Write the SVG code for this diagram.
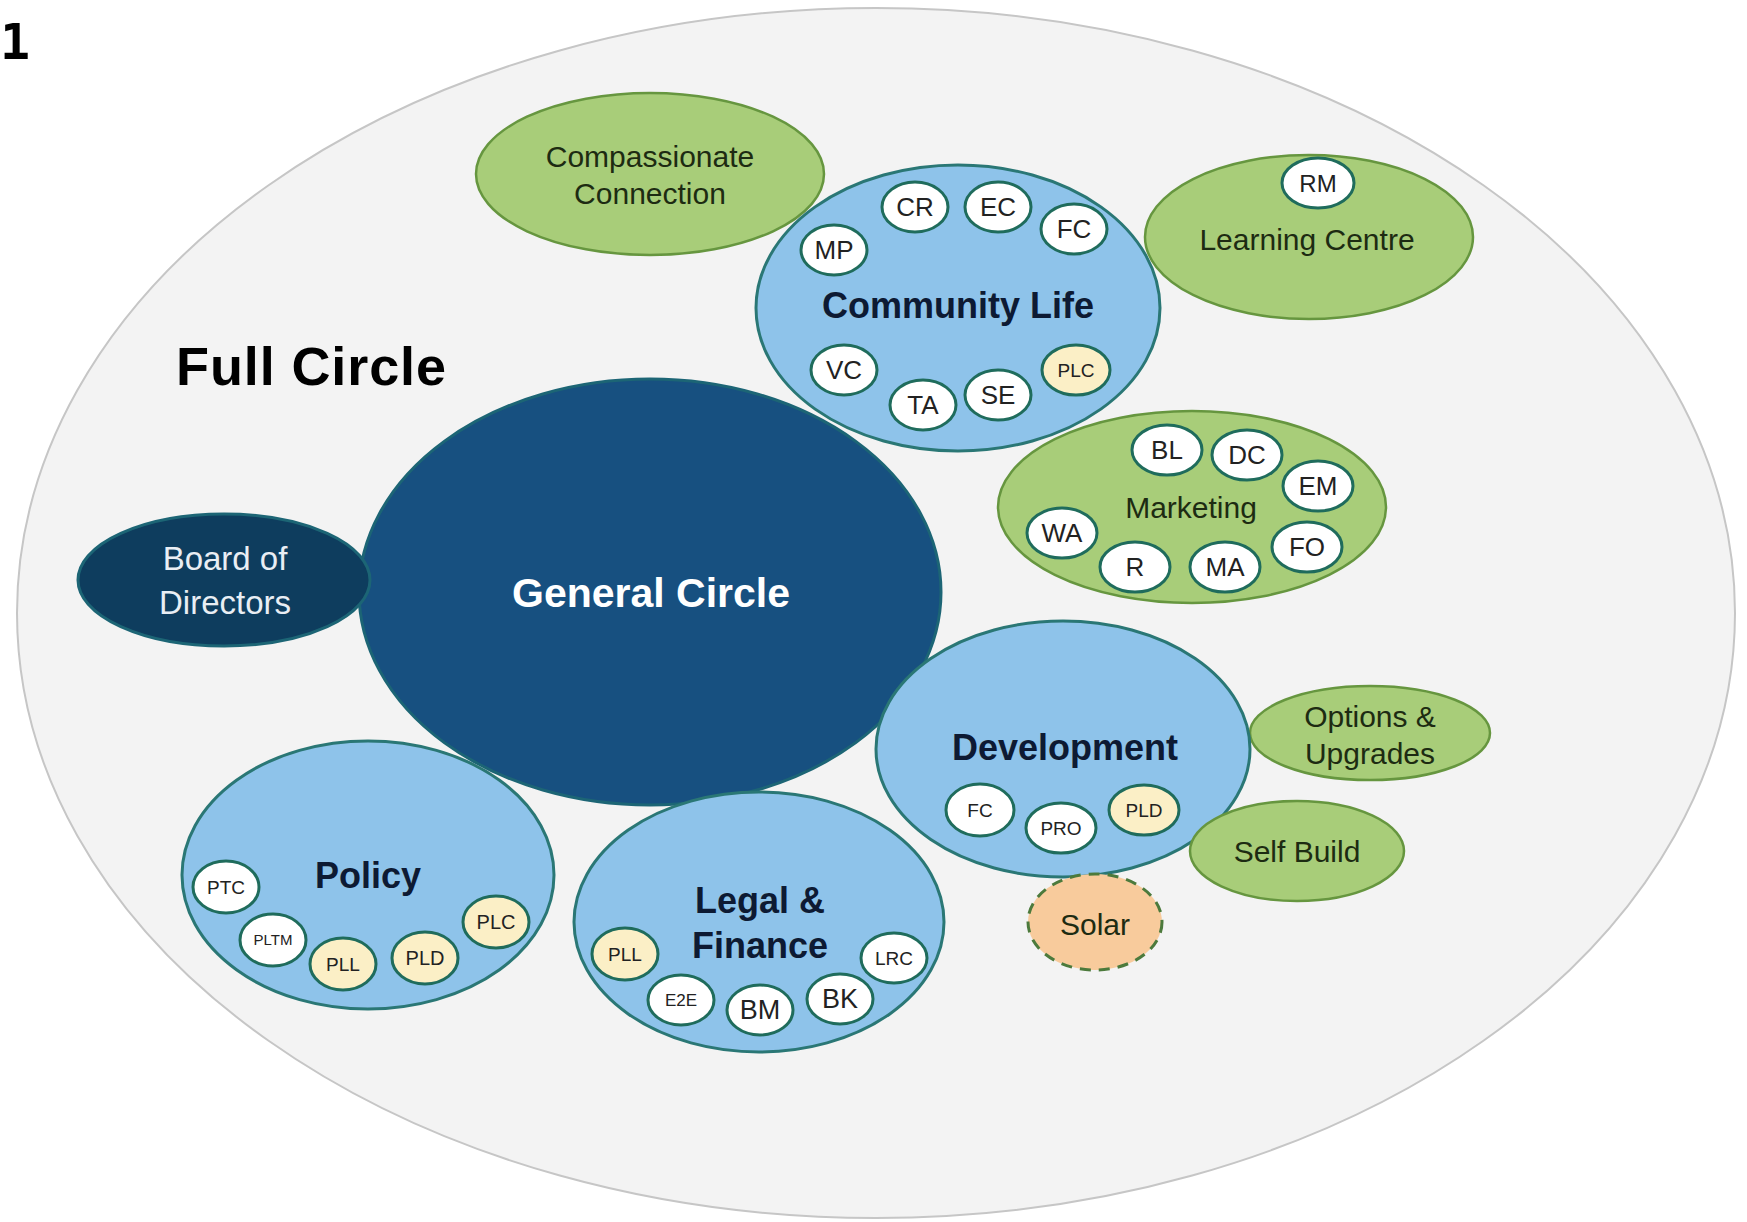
<svg xmlns="http://www.w3.org/2000/svg" width="1747" height="1222" viewBox="0 0 1747 1222">
<style>
text{font-family:"Liberation Sans",Arial,sans-serif;text-anchor:middle}
.green{fill:#a8cd79;stroke:#66963f;stroke-width:2.5}
.blue{fill:#8ec3ea;stroke:#2a7775;stroke-width:3}
.sm{fill:#ffffff;stroke:#1f6c5c;stroke-width:3}
.smy{fill:#fbefc6;stroke:#1f6c5c;stroke-width:3}
.gl{fill:#1d2b12;font-size:30px}
.bl{fill:#0d1a33;font-size:36px;font-weight:bold}
.st{fill:#222222}
</style>
<rect x="0" y="0" width="1747" height="1222" fill="#ffffff"/>
<g id="full-circle">
<ellipse cx="876" cy="613" rx="859" ry="605" fill="#f3f3f3" stroke="#c6c6c6" stroke-width="2"/>
<text x="0" y="59" style="font-family:'DejaVu Sans Mono','Liberation Mono',monospace;font-size:50px;font-weight:bold;text-anchor:start" fill="#000">1</text>
<text x="311" y="385" style="font-size:54px;font-weight:bold" fill="#000" textLength="270">Full Circle</text>
</g>
<g id="connectors"></g>
<g id="general-circle">
<ellipse cx="650" cy="592" rx="291" ry="213" fill="#175080" stroke="#1c6575" stroke-width="3"/>
<text x="651" y="607" style="font-size:41px;font-weight:bold" fill="#ffffff">General Circle</text>
</g>
<g id="board-of-directors">
<ellipse cx="224" cy="580" rx="146" ry="66" fill="#0e3d5e" stroke="#1c6575" stroke-width="3"/>
<text x="225" y="570" style="font-size:33px" fill="#e9eef4">Board of</text>
<text x="225" y="614" style="font-size:33px" fill="#e9eef4">Directors</text>
</g>
<g id="compassionate-connection">
<ellipse cx="650" cy="174" rx="174" ry="81" class="green"/>
<text x="650" y="167" class="gl">Compassionate</text>
<text x="650" y="204" class="gl">Connection</text>
</g>
<g id="learning-centre">
<ellipse cx="1309" cy="237" rx="164" ry="82" class="green"/>
<text x="1307" y="250" class="gl">Learning Centre</text>
<ellipse cx="1318" cy="183" rx="36" ry="25" class="sm"/>
<text x="1318" y="192" class="st" style="font-size:24px">RM</text>
</g>
<g id="community-life">
<ellipse cx="958" cy="308" rx="202" ry="143" class="blue"/>
<text x="958" y="318" class="bl">Community Life</text>
<ellipse cx="915" cy="207" rx="33" ry="25" class="sm"/><text x="915" y="216" class="st" style="font-size:26px">CR</text>
<ellipse cx="998" cy="207" rx="33" ry="25" class="sm"/><text x="998" y="216" class="st" style="font-size:26px">EC</text>
<ellipse cx="1074" cy="229" rx="33" ry="25" class="sm"/><text x="1074" y="238" class="st" style="font-size:26px">FC</text>
<ellipse cx="834" cy="250" rx="33" ry="25" class="sm"/><text x="834" y="259" class="st" style="font-size:26px">MP</text>
<ellipse cx="844" cy="370" rx="33" ry="25" class="sm"/><text x="844" y="379" class="st" style="font-size:26px">VC</text>
<ellipse cx="923" cy="405" rx="33" ry="25" class="sm"/><text x="923" y="414" class="st" style="font-size:26px">TA</text>
<ellipse cx="998" cy="395" rx="33" ry="25" class="sm"/><text x="998" y="404" class="st" style="font-size:26px">SE</text>
<ellipse cx="1076" cy="370" rx="34" ry="25" class="smy"/><text x="1076" y="377" class="st" style="font-size:19px">PLC</text>
</g>
<g id="marketing">
<ellipse cx="1192" cy="507" rx="194" ry="96" class="green"/>
<text x="1191" y="518" class="gl">Marketing</text>
<ellipse cx="1167" cy="450" rx="35" ry="25" class="sm"/><text x="1167" y="459" class="st" style="font-size:26px">BL</text>
<ellipse cx="1247" cy="455" rx="35" ry="25" class="sm"/><text x="1247" y="464" class="st" style="font-size:26px">DC</text>
<ellipse cx="1318" cy="486" rx="35" ry="25" class="sm"/><text x="1318" y="495" class="st" style="font-size:26px">EM</text>
<ellipse cx="1062" cy="533" rx="35" ry="25" class="sm"/><text x="1062" y="542" class="st" style="font-size:26px">WA</text>
<ellipse cx="1135" cy="567" rx="35" ry="25" class="sm"/><text x="1135" y="576" class="st" style="font-size:26px">R</text>
<ellipse cx="1225" cy="567" rx="35" ry="25" class="sm"/><text x="1225" y="576" class="st" style="font-size:26px">MA</text>
<ellipse cx="1307" cy="547" rx="35" ry="25" class="sm"/><text x="1307" y="556" class="st" style="font-size:26px">FO</text>
</g>
<g id="options-upgrades">
<ellipse cx="1370" cy="733" rx="120" ry="47" class="green"/>
<text x="1370" y="727" class="gl">Options &amp;</text>
<text x="1370" y="764" class="gl">Upgrades</text>
</g>
<g id="development">
<ellipse cx="1063" cy="749" rx="187" ry="128" class="blue"/>
<text x="1065" y="760" class="bl">Development</text>
<ellipse cx="980" cy="810" rx="34" ry="26" class="sm"/><text x="980" y="817" class="st" style="font-size:19px">FC</text>
<ellipse cx="1061" cy="828" rx="35" ry="25" class="sm"/><text x="1061" y="835" class="st" style="font-size:19px">PRO</text>
<ellipse cx="1144" cy="810" rx="35" ry="25" class="smy"/><text x="1144" y="817" class="st" style="font-size:19px">PLD</text>
</g>
<g id="self-build">
<ellipse cx="1297" cy="851" rx="107" ry="50" class="green"/>
<text x="1297" y="862" class="gl">Self Build</text>
</g>
<g id="solar">
<ellipse cx="1095" cy="922" rx="67" ry="48" fill="#f8cb9c" stroke="#4c7a3c" stroke-width="3" stroke-dasharray="11 8"/>
<text x="1095" y="935" style="font-size:30px" fill="#1d2b12">Solar</text>
</g>
<g id="policy">
<ellipse cx="368" cy="875" rx="186" ry="134" class="blue"/>
<text x="368" y="888" class="bl">Policy</text>
<ellipse cx="226" cy="887" rx="33" ry="26" class="sm"/><text x="226" y="894" class="st" style="font-size:19px">PTC</text>
<ellipse cx="273" cy="940" rx="33" ry="26" class="sm"/><text x="273" y="945" class="st" style="font-size:15px">PLTM</text>
<ellipse cx="343" cy="964" rx="33" ry="26" class="smy"/><text x="343" y="971" class="st" style="font-size:19px">PLL</text>
<ellipse cx="425" cy="958" rx="33" ry="26" class="smy"/><text x="425" y="965" class="st" style="font-size:20px">PLD</text>
<ellipse cx="496" cy="922" rx="33" ry="26" class="smy"/><text x="496" y="929" class="st" style="font-size:20px">PLC</text>
</g>
<g id="legal-finance">
<ellipse cx="759" cy="922" rx="185" ry="130" class="blue"/>
<text x="760" y="913" class="bl">Legal &amp;</text>
<text x="760" y="958" class="bl">Finance</text>
<ellipse cx="625" cy="954" rx="33" ry="26" class="smy"/><text x="625" y="961" class="st" style="font-size:19px">PLL</text>
<ellipse cx="681" cy="1000" rx="33" ry="25" class="sm"/><text x="681" y="1006" class="st" style="font-size:17px">E2E</text>
<ellipse cx="760" cy="1010" rx="33" ry="25" class="sm"/><text x="760" y="1019" class="st" style="font-size:27px">BM</text>
<ellipse cx="840" cy="999" rx="33" ry="25" class="sm"/><text x="840" y="1008" class="st" style="font-size:27px">BK</text>
<ellipse cx="894" cy="958" rx="33" ry="25" class="sm"/><text x="894" y="965" class="st" style="font-size:19px">LRC</text>
</g>
</svg>
